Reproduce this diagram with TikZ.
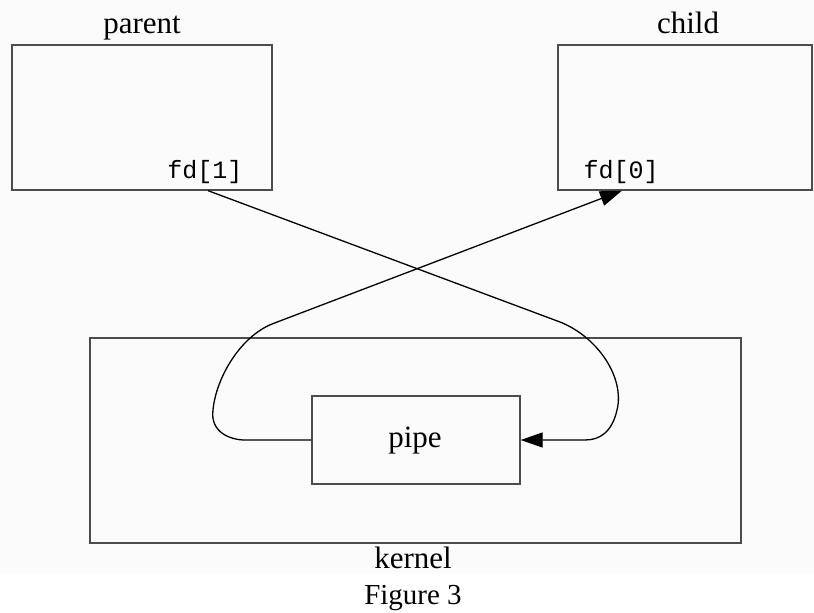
\documentclass[tikz,border=0pt]{standalone}
\usepackage{fontspec}
\setmainfont{Liberation Serif}
\setmonofont{Liberation Mono}
\usetikzlibrary{arrows.meta}
\definecolor{paper}{RGB}{251,251,251}
\begin{document}
\begin{tikzpicture}[x=1pt,y=-1pt,
  box/.style={draw=black!70,line width=1.3pt,inner sep=0pt},
  lbl/.style={font=\fontsize{31}{33}\selectfont,inner sep=0pt,anchor=base},
  mono/.style={font=\ttfamily\fontsize{25}{27}\selectfont,inner sep=0pt,anchor=base},
  wire/.style={line width=1.3pt,black},
  tip/.style={-{Triangle[length=22pt,width=15pt]}}
]
\useasboundingbox (0,0) rectangle (814,613);
\fill[paper] (0,0) rectangle (814,573);
% processes
\node[box,minimum width=260pt,minimum height=145pt] (parent) at (142,117.5) {};
\node[box,minimum width=254pt,minimum height=145pt] (child) at (685,117.5) {};
\node[lbl] (plabel) at (142,33) {parent};
\node[lbl] (clabel) at (688,33) {child};
\node[mono] (fd1) at (205,178) {fd[1]};
\node[mono] (fd0) at (621,178) {fd[0]};
% kernel and pipe
\node[box,minimum width=651pt,minimum height=205pt] (kernel) at (415.5,440.5) {};
\node[lbl] (klabel) at (413,568) {kernel};
\node[box,minimum width=208pt,minimum height=88pt] (pipe) at (416,440) {};
\node[lbl] (plbl) at (415,447) {pipe};
\node[font=\fontsize{29}{31}\selectfont,inner sep=0pt,anchor=base] (caption) at (413,604) {Figure 3};
% connector ends on the box edges
\coordinate (w1) at (parent.south -| 208,0);
\coordinate (r0) at (child.south -| 622,0);
% write end into the pipe
\draw[wire,tip]
  (w1) -- (560,322)
  .. controls (598,337) and (625,378) .. (617,410)
  .. controls (612,432) and (600,440) .. (585,440)
  -- (pipe.east);
% read end out of the pipe
\draw[wire,tip]
  (pipe.west) -- (245,440)
  .. controls (230,440) and (210,432) .. (213,410)
  .. controls (216,378) and (240,337) .. (272,324)
  -- (r0);
\end{tikzpicture}
\end{document}
